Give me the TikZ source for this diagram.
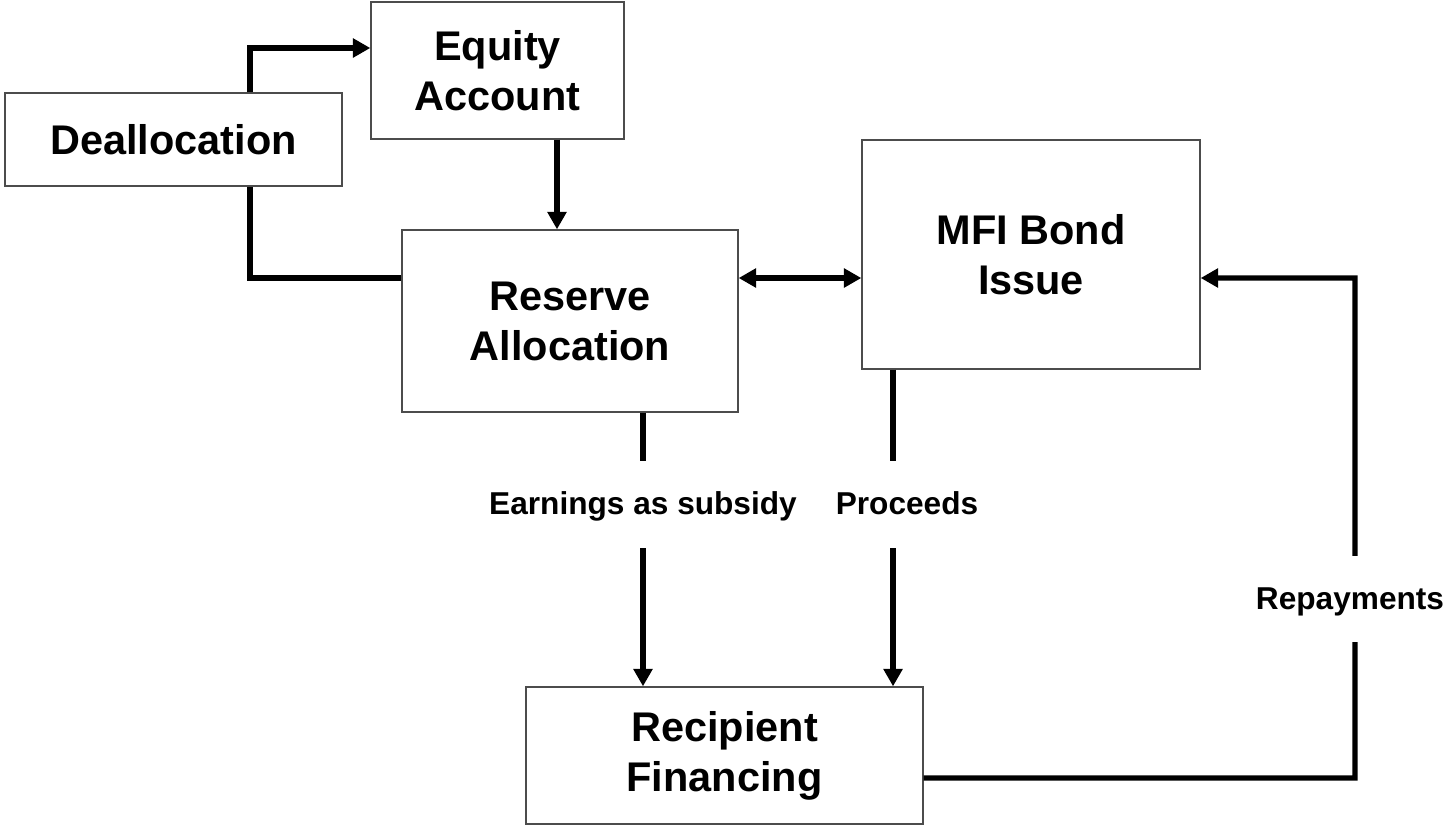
\documentclass[tikz,border=0pt]{standalone}
\usepackage{fontspec}
\setmainfont{Liberation Sans}
\usepackage{tikz}
\usetikzlibrary{arrows.meta,positioning,calc}
\tikzset{
  box/.style={draw=black!70,line width=0.8pt,fill=white,align=center,font=\fontsize{23.6}{28.5}\selectfont\bfseries,inner sep=2pt},
  conn/.style={line width=3.1pt},
  arr/.style={line width=3.1pt,-{Triangle[length=0.35cm,width=0.37cm]}},
  darr/.style={line width=3.1pt,{Triangle[length=0.35cm,width=0.37cm]}-{Triangle[length=0.35cm,width=0.37cm]}},
  lbl/.style={font=\fontsize{18}{22}\selectfont\bfseries,fill=white,inner xsep=1pt,inner ysep=0.65cm,text height=1.2em,text depth=0.03em}
}
\begin{document}
\begin{tikzpicture}[x=0.02cm,y=-0.02cm]
\useasboundingbox (0,0) rectangle (1449,828);
\node[box,minimum width=6.74cm,minimum height=1.86cm] (dealloc) at (173.5,139.5) {Deallocation};
\node[box,minimum width=5.06cm,minimum height=2.74cm] (equity) at (497.5,70.5) {Equity\\Account};
\node[box,minimum width=6.72cm,minimum height=3.64cm] (reserve) at (570,321) {Reserve\\Allocation};
\node[box,minimum width=6.76cm,minimum height=4.58cm] (mfi) at (1031,254.5) {MFI Bond\\Issue};
\node[box,minimum width=7.94cm,minimum height=2.74cm] (recip) at (724.5,755.5) {Recipient\\Financing};
\coordinate (rc) at (1355,278);
% left loop
\draw[conn] ([yshift=0.86cm]reserve.west) -| ([xshift=1.53cm]dealloc.south);
\draw[arr] ([xshift=1.53cm]dealloc.north) |- ([yshift=0.45cm]equity.west);
\draw[arr] ([xshift=1.19cm]equity.south) -- ([xshift=1.19cm]equity.south |- reserve.north);
\draw[darr] ([yshift=0.86cm]reserve.east) -- ([yshift=0.86cm]reserve.east -| mfi.west);
% flows down
\draw[arr] ([xshift=1.46cm]reserve.south) -- node[lbl,pos=0.335] (earn) {Earnings as subsidy} ([xshift=1.46cm]reserve.south |- recip.north);
\draw[arr] ([xshift=-2.76cm]mfi.south) -- node[lbl,pos=0.425,xshift=0.28cm] (proc) {Proceeds} ([xshift=-2.76cm]mfi.south |- recip.north);
\draw[arr] ([yshift=-0.45cm]recip.east) -| node[lbl,pos=0.679,xshift=-0.1cm] (repay) {Repayments} (rc) -- ([yshift=-0.47cm]mfi.east);
\end{tikzpicture}
\end{document}
